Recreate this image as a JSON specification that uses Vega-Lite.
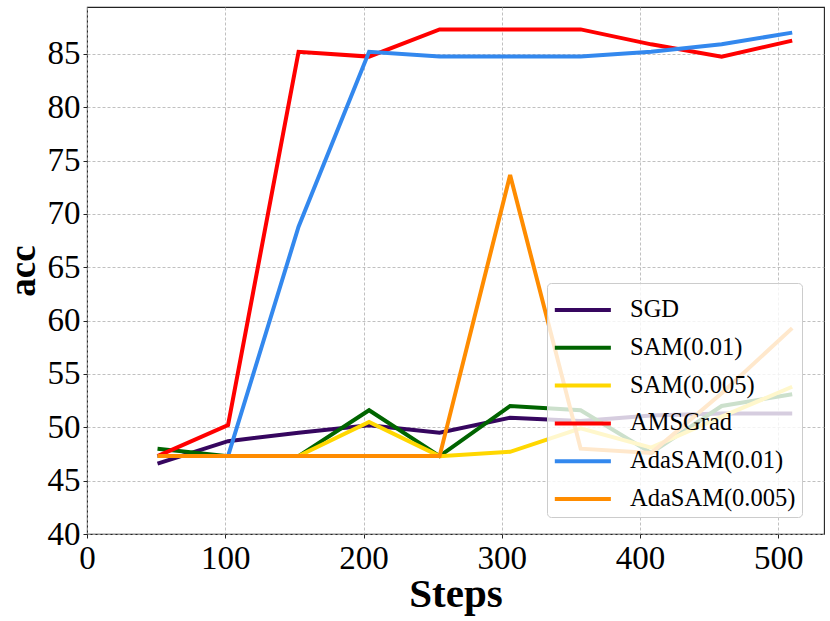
{
  "$schema": "https://vega.github.io/schema/vega-lite/v6.json",
  "width": 737,
  "height": 527,
  "autosize": "none",
  "padding": {"left": 87, "top": 7, "right": 6, "bottom": 87},
  "background": "white",
  "config": {
    "font": "Liberation Serif",
    "view": {"stroke": "#222222", "strokeWidth": 1.1}
  },
  "data": {
    "values": [
      {"Steps": 51, "Method": "SGD", "acc": 46.6},
      {"Steps": 102, "Method": "SGD", "acc": 48.7},
      {"Steps": 153, "Method": "SGD", "acc": 49.5},
      {"Steps": 204, "Method": "SGD", "acc": 50.2},
      {"Steps": 255, "Method": "SGD", "acc": 49.5},
      {"Steps": 306, "Method": "SGD", "acc": 50.9},
      {"Steps": 357, "Method": "SGD", "acc": 50.6},
      {"Steps": 408, "Method": "SGD", "acc": 51.1},
      {"Steps": 459, "Method": "SGD", "acc": 51.3},
      {"Steps": 510, "Method": "SGD", "acc": 51.3},
      {"Steps": 51, "Method": "SAM(0.01)", "acc": 48.0},
      {"Steps": 102, "Method": "SAM(0.01)", "acc": 47.3},
      {"Steps": 153, "Method": "SAM(0.01)", "acc": 47.3},
      {"Steps": 204, "Method": "SAM(0.01)", "acc": 51.6},
      {"Steps": 255, "Method": "SAM(0.01)", "acc": 47.3},
      {"Steps": 306, "Method": "SAM(0.01)", "acc": 52.0},
      {"Steps": 357, "Method": "SAM(0.01)", "acc": 51.6},
      {"Steps": 408, "Method": "SAM(0.01)", "acc": 47.6},
      {"Steps": 459, "Method": "SAM(0.01)", "acc": 52.0},
      {"Steps": 510, "Method": "SAM(0.01)", "acc": 53.1},
      {"Steps": 51, "Method": "SAM(0.005)", "acc": 47.3},
      {"Steps": 102, "Method": "SAM(0.005)", "acc": 47.3},
      {"Steps": 153, "Method": "SAM(0.005)", "acc": 47.3},
      {"Steps": 204, "Method": "SAM(0.005)", "acc": 50.5},
      {"Steps": 255, "Method": "SAM(0.005)", "acc": 47.3},
      {"Steps": 306, "Method": "SAM(0.005)", "acc": 47.7},
      {"Steps": 357, "Method": "SAM(0.005)", "acc": 49.9},
      {"Steps": 408, "Method": "SAM(0.005)", "acc": 48.1},
      {"Steps": 459, "Method": "SAM(0.005)", "acc": 51.0},
      {"Steps": 510, "Method": "SAM(0.005)", "acc": 53.8},
      {"Steps": 51, "Method": "AMSGrad", "acc": 47.3},
      {"Steps": 102, "Method": "AMSGrad", "acc": 50.2},
      {"Steps": 153, "Method": "AMSGrad", "acc": 85.2},
      {"Steps": 204, "Method": "AMSGrad", "acc": 84.75},
      {"Steps": 255, "Method": "AMSGrad", "acc": 87.3},
      {"Steps": 306, "Method": "AMSGrad", "acc": 87.3},
      {"Steps": 357, "Method": "AMSGrad", "acc": 87.3},
      {"Steps": 408, "Method": "AMSGrad", "acc": 85.9},
      {"Steps": 459, "Method": "AMSGrad", "acc": 84.75},
      {"Steps": 510, "Method": "AMSGrad", "acc": 86.25},
      {"Steps": 51, "Method": "AdaSAM(0.01)", "acc": 47.3},
      {"Steps": 102, "Method": "AdaSAM(0.01)", "acc": 47.3},
      {"Steps": 153, "Method": "AdaSAM(0.01)", "acc": 68.8},
      {"Steps": 204, "Method": "AdaSAM(0.01)", "acc": 85.2},
      {"Steps": 255, "Method": "AdaSAM(0.01)", "acc": 84.75},
      {"Steps": 306, "Method": "AdaSAM(0.01)", "acc": 84.75},
      {"Steps": 357, "Method": "AdaSAM(0.01)", "acc": 84.75},
      {"Steps": 408, "Method": "AdaSAM(0.01)", "acc": 85.2},
      {"Steps": 459, "Method": "AdaSAM(0.01)", "acc": 85.9},
      {"Steps": 510, "Method": "AdaSAM(0.01)", "acc": 87.0},
      {"Steps": 51, "Method": "AdaSAM(0.005)", "acc": 47.3},
      {"Steps": 102, "Method": "AdaSAM(0.005)", "acc": 47.3},
      {"Steps": 153, "Method": "AdaSAM(0.005)", "acc": 47.3},
      {"Steps": 204, "Method": "AdaSAM(0.005)", "acc": 47.3},
      {"Steps": 255, "Method": "AdaSAM(0.005)", "acc": 47.3},
      {"Steps": 306, "Method": "AdaSAM(0.005)", "acc": 73.65},
      {"Steps": 357, "Method": "AdaSAM(0.005)", "acc": 48.0},
      {"Steps": 408, "Method": "AdaSAM(0.005)", "acc": 47.6},
      {"Steps": 459, "Method": "AdaSAM(0.005)", "acc": 53.2},
      {"Steps": 510, "Method": "AdaSAM(0.005)", "acc": 59.3}
    ]
  },
  "mark": {"type": "line", "strokeWidth": 4, "clip": true},
  "encoding": {
    "x": {
      "field": "Steps",
      "type": "quantitative",
      "scale": {"domain": [0, 533], "nice": false, "zero": false},
      "axis": {
        "values": [0, 100, 200, 300, 400, 500],
        "title": "Steps",
        "titleFontSize": 41,
        "titleFontWeight": "bold",
        "titleColor": "black",
        "titleBaseline": "alphabetic",
        "titleY": 72,
        "labelFontSize": 33,
        "labelColor": "black",
        "labelPadding": 4,
        "labelFlush": false,
        "tickSize": 4,
        "tickColor": "#222222",
        "domain": false,
        "gridColor": "#b0b0b0",
        "gridDash": [3, 2],
        "gridWidth": 0.8
      }
    },
    "y": {
      "field": "acc",
      "type": "quantitative",
      "scale": {"domain": [40, 89.4], "nice": false, "zero": false},
      "axis": {
        "values": [40, 45, 50, 55, 60, 65, 70, 75, 80, 85],
        "title": "acc",
        "titleFontSize": 37,
        "titleFontWeight": "bold",
        "titleColor": "black",
        "titleBaseline": "alphabetic",
        "titleX": -53,
        "titleY": 263.5,
        "labelFontSize": 33,
        "labelColor": "black",
        "labelPadding": 3,
        "labelFlush": false,
        "tickSize": 4,
        "tickColor": "#222222",
        "domain": false,
        "gridColor": "#b0b0b0",
        "gridDash": [3, 2],
        "gridWidth": 0.8
      }
    },
    "color": {
      "field": "Method",
      "type": "nominal",
      "sort": null,
      "scale": {
        "domain": ["SGD", "SAM(0.01)", "SAM(0.005)", "AMSGrad", "AdaSAM(0.01)", "AdaSAM(0.005)"],
        "range": ["#36065f", "#006400", "#ffd700", "#ff0000", "#3388ee", "#ff8c00"]
      },
      "legend": {
        "title": null,
        "orient": "none",
        "legendX": 460,
        "legendY": 276,
        "fillColor": "rgba(255,255,255,0.8)",
        "strokeColor": "#cccccc",
        "cornerRadius": 4,
        "padding": 6,
        "symbolType": "M-1.01,0H1.94",
        "symbolSize": 1444,
        "symbolStrokeWidth": 4,
        "labelFontSize": 24.5,
        "labelColor": "black",
        "labelOffset": 35,
        "labelLimit": 300,
        "rowPadding": 4.8
      }
    }
  }
}
